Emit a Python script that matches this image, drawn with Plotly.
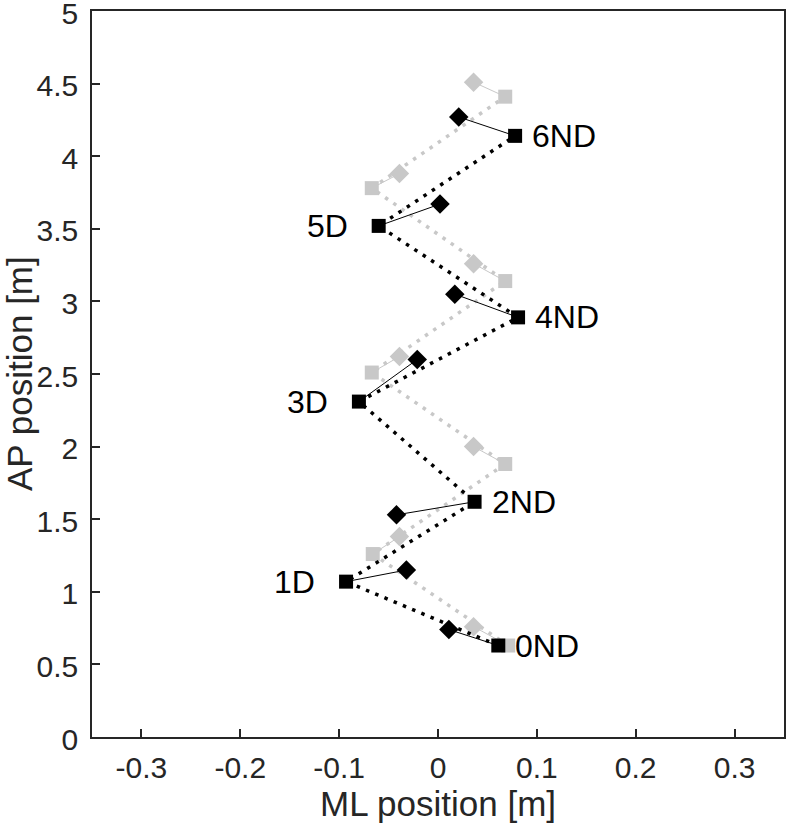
import plotly.graph_objects as go

# ---- data ----
step_labels = ["0ND", "1D", "2ND", "3D", "4ND", "5D", "6ND"]
foot_ml = [0.061, -0.093, 0.037, -0.080, 0.081, -0.060, 0.078]
foot_ap = [0.63, 1.07, 1.62, 2.31, 2.89, 3.52, 4.14]
com_ml = [0.011, -0.032, -0.042, -0.021, 0.017, 0.002, 0.021]
com_ap = [0.74, 1.15, 1.53, 2.60, 3.05, 3.67, 4.27]
ref_foot_ml = [0.071, -0.066, 0.068, -0.067, 0.068, -0.067, 0.068]
ref_foot_ap = [0.63, 1.26, 1.88, 2.51, 3.14, 3.78, 4.41]
ref_com_ml = [0.036, -0.039, 0.036, -0.039, 0.036, -0.039, 0.036]
ref_com_ap = [0.76, 1.38, 2.00, 2.62, 3.26, 3.88, 4.51]

x_ticks = [-0.3, -0.2, -0.1, 0, 0.1, 0.2, 0.3]
x_tick_text = ["-0.3", "-0.2", "-0.1", "0", "0.1", "0.2", "0.3"]
y_ticks = [0, 0.5, 1, 1.5, 2, 2.5, 3, 3.5, 4, 4.5, 5]
y_tick_text = ["0", "0.5", "1", "1.5", "2", "2.5", "3", "3.5", "4", "4.5", "5"]
x_title = "ML position [m]"
y_title = "AP position [m]"

GREY = "#c8c8c8"
BLACK = "#000000"
AXC = "#262626"
FONT = "Liberation Sans, Arial, sans-serif"


def connectors(ax, ay, bx, by):
    xs, ys = [], []
    for x1, y1, x2, y2 in zip(ax, ay, bx, by):
        xs += [x1, x2, None]
        ys += [y1, y2, None]
    return xs, ys


fig = go.Figure()

for fml, fap, cml, cap, col in [
    (ref_foot_ml, ref_foot_ap, ref_com_ml, ref_com_ap, GREY),
    (foot_ml, foot_ap, com_ml, com_ap, BLACK),
]:
    fig.add_trace(go.Scatter(x=fml, y=fap, mode="lines",
                             line=dict(color=col, width=3.5, dash="3.5px,6.5px"),
                             hoverinfo="skip", showlegend=False))
    cx, cy = connectors(cml, cap, fml, fap)
    fig.add_trace(go.Scatter(x=cx, y=cy, mode="lines",
                             line=dict(color=col, width=1),
                             hoverinfo="skip", showlegend=False))
    fig.add_trace(go.Scatter(x=cml, y=cap, mode="markers",
                             marker=dict(symbol="diamond", size=15, color=col,
                                         line=dict(width=0)),
                             showlegend=False))
    fig.add_trace(go.Scatter(x=fml, y=fap, mode="markers",
                             marker=dict(symbol="square", size=14, color=col,
                                         line=dict(width=0)),
                             showlegend=False))

for lab, x, y in zip(step_labels, foot_ml, foot_ap):
    right = lab.endswith("ND")
    fig.add_annotation(x=x, y=y, text=lab, showarrow=False,
                       xanchor="left" if right else "right", yanchor="middle",
                       xshift=15 if right else -29,
                       font=dict(family=FONT, size=32, color="#000000"))

# axis titles
fig.add_annotation(x=0.5, y=0, xref="paper", yref="paper", text=x_title,
                   showarrow=False, xanchor="center", yanchor="middle", yshift=-66,
                   font=dict(family=FONT, size=35, color=AXC))
fig.add_annotation(x=0, y=0.5, xref="paper", yref="paper", text=y_title,
                   showarrow=False, xanchor="center", yanchor="middle", xshift=-73,
                   textangle=-90, font=dict(family=FONT, size=35, color=AXC))

axis_common = dict(
    showgrid=False, zeroline=False, showline=True, mirror=True,
    linecolor=AXC, linewidth=1.5, ticks="inside", ticklen=8,
    tickwidth=1.5, tickcolor=AXC, automargin=False,
    ticklabeloverflow="allow",
    tickfont=dict(family=FONT, size=30, color=AXC),
)

fig.update_xaxes(range=[-0.35, 0.35], tickvals=x_ticks, ticktext=x_tick_text,
                 ticklabelstandoff=3, **axis_common)
fig.update_yaxes(range=[0, 5], tickvals=y_ticks, ticktext=y_tick_text,
                 ticklabelstandoff=6, ticklabelshift=2, **axis_common)

fig.update_layout(width=788, height=827, plot_bgcolor="white", paper_bgcolor="white",
                  margin=dict(l=92, r=4, t=11, b=90), showlegend=False)

fig.write_html("out.html", config={"displayModeBar": False},
               post_script="document.body.style.margin='0';document.body.style.overflow='hidden';")
